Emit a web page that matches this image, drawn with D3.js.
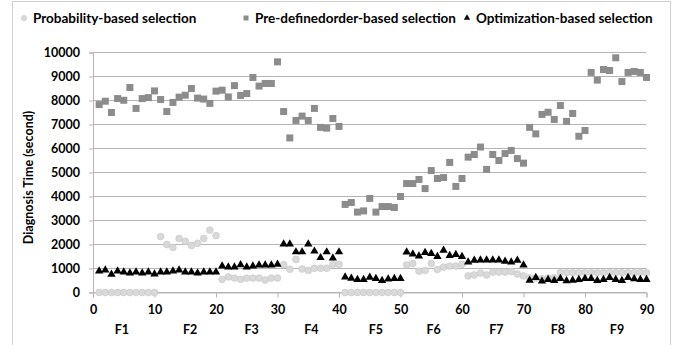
<!DOCTYPE html>
<html>
<head>
<meta charset="utf-8">
<script src="https://cdn.jsdelivr.net/npm/d3@7"></script>
<style>
  body { margin: 0; background: #fff; }
  text { font-family: Lato, "Open Sans", sans-serif; font-weight: 700; fill: #000; }
</style>
</head>
<body>
<script>
// values (x = test case 1..90)
const probability = [
  0, 0, 0, 0, 0, 0, 0, 0, 0, 0,
  2330, 2000, 1880, 2250, 2130, 1960, 2050, 2250, 2600, 2370,
  550, 650, 600, 550, 600, 600, 600, 520, 600, 600,
  1160, 970, 1380, 980, 920, 1010, 1010, 1010, 1170, 1170,
  0, 0, 0, 0, 0, 0, 0, 0, 0, 0,
  1150, 1210, 890, 920, 1210, 960, 1060, 1100, 1100, 1180,
  690, 730, 810, 730, 850, 850, 850, 870, 770, 690,
  620, 600, 580, 600, 620, 830, 830, 830, 830, 830,
  830, 830, 830, 840, 830, 830, 830, 830, 840, 830
];
const predefined = [
  7830, 7970, 7500, 8080, 8010, 8540, 7670, 8080, 8120, 8400,
  8040, 7540, 7920, 8140, 8220, 8500, 8100, 8060, 7880, 8390,
  8430, 8150, 8620, 8210, 8290, 8960, 8600, 8710, 8710, 9610,
  7540, 6440, 7170, 7350, 7170, 7670, 6880, 6850, 7250, 6920,
  3670, 3750, 3350, 3400, 3920, 3350, 3580, 3580, 3540, 4000,
  4540, 4540, 4710, 4330, 5080, 4750, 4790, 5420, 4420, 4750,
  5640, 5750, 6060, 5130, 5750, 5500, 5790, 5920, 5580, 5390,
  6880, 6610, 7420, 7510, 7210, 7790, 7130, 7460, 6510, 6750,
  9170, 8850, 9290, 9250, 9780, 8790, 9170, 9210, 9170, 8960
];
const optimization = [
  890, 930, 760, 890, 850, 810, 850, 810, 850, 770,
  850, 850, 890, 930, 850, 850, 810, 850, 850, 850,
  1100, 1055, 1055, 1150, 1055, 1100, 1140, 1140, 1140, 1170,
  2020, 2020, 1690, 1690, 2020, 1720, 1450, 1690, 1430, 1690,
  640, 590, 540, 540, 630, 580, 500, 560, 580, 580,
  1680, 1600, 1520, 1660, 1620, 1500, 1760, 1540, 1580, 1500,
  1270, 1340, 1350, 1350, 1350, 1350, 1300, 1270, 1340, 1140,
  510, 625, 470, 540, 500, 580, 490, 510, 540, 580,
  580, 500, 540, 625, 540, 500, 625, 570, 540, 540
];
const seriesNames = ["Probability-based selection", "Pre-definedorder-based selection", "Optimization-based selection"];
const xTickValues = [0, 10, 20, 30, 40, 50, 60, 70, 80, 90];
const yTickValues = [0, 1000, 2000, 3000, 4000, 5000, 6000, 7000, 8000, 9000, 10000];
const faultLabels = ["F1", "F2", "F3", "F4", "F5", "F6", "F7", "F8", "F9"];
const faultCenters = [4.7, 15.8, 25.8, 35.5, 46, 55.4, 65.6, 75.6, 85.2];

const width = 682;
const height = 345;

const svg = d3.select("body").append("svg")
  .attr("width", width)
  .attr("height", height);

// outer chart frame
svg.append("rect")
  .attr("x", 12.5).attr("y", 1.5)
  .attr("width", 658).attr("height", 360)
  .attr("fill", "none")
  .attr("stroke", "#d0d0d0");

const x = d3.scaleLinear().domain([0, 90]).range([93, 646.5]);
const y = d3.scaleLinear().domain([0, 10000]).range([292.5, 52.5]);

// gridlines
svg.append("g")
  .selectAll("line")
  .data(yTickValues)
  .join("line")
  .attr("x1", x(0)).attr("x2", x(90))
  .attr("y1", (d) => y(d)).attr("y2", (d) => y(d))
  .attr("stroke", "#b5b5b5");

// y axis
const yAxis = svg.append("g")
  .attr("transform", `translate(${x(0)},0)`)
  .call(d3.axisLeft(y).tickValues(yTickValues).tickSize(4).tickPadding(9).tickFormat(d3.format("d")));
yAxis.select(".domain").attr("stroke", "#b5b5b5");
yAxis.selectAll(".tick line").attr("stroke", "#b5b5b5");
yAxis.selectAll("text").style("font-size", "12.5px").attr("dy", "0.35em");

// x axis
const xAxis = svg.append("g")
  .attr("transform", `translate(0,${y(0)})`)
  .call(d3.axisBottom(x).tickValues(xTickValues).tickSize(5).tickPadding(8).tickFormat(d3.format("d")));
xAxis.select(".domain").attr("stroke", "#b5b5b5");
xAxis.selectAll(".tick line").attr("stroke", "#b5b5b5");
xAxis.selectAll("text").style("font-size", "12.5px");

// fault group labels
svg.append("g")
  .selectAll("text")
  .data(faultLabels)
  .join("text")
  .attr("x", (d, i) => x(faultCenters[i]))
  .attr("y", 334)
  .attr("text-anchor", "middle")
  .style("font-size", "12.5px")
  .text((d) => d);

// y title
svg.append("text")
  .attr("transform", `translate(33,${(y(0) + y(10000)) / 2 + 5}) rotate(-90)`)
  .attr("text-anchor", "middle")
  .style("font-size", "12.5px")
  .text("Diagnosis Time (second)");

const idx = d3.range(1, 91);

// probability: light circles
svg.append("g")
  .selectAll("circle")
  .data(idx)
  .join("circle")
  .attr("cx", (d) => x(d))
  .attr("cy", (d) => y(probability[d - 1]))
  .attr("r", 3.4)
  .attr("fill", "#d9d9d9")
  .attr("stroke", "#c6c6c6")
  .attr("stroke-width", 0.6);

// pre-defined order: gray squares
svg.append("g")
  .selectAll("rect")
  .data(idx)
  .join("rect")
  .attr("x", (d) => x(d) - 3.5)
  .attr("y", (d) => y(predefined[d - 1]) - 3.5)
  .attr("width", 7)
  .attr("height", 7)
  .attr("fill", "#8c8c8c");

// optimization: black triangles
const tri = d3.symbol().type(d3.symbolTriangle).size(30);
svg.append("g")
  .selectAll("path")
  .data(idx)
  .join("path")
  .attr("d", tri)
  .attr("transform", (d) => `translate(${x(d)},${y(optimization[d - 1])})`)
  .attr("fill", "#000");

// legend
const legendX = [24, 246, 467];
const legend = svg.append("g")
  .selectAll("g")
  .data(seriesNames)
  .join("g")
  .attr("transform", (d, i) => `translate(${legendX[i]},18)`);
legend.append("text")
  .attr("x", 9)
  .attr("y", 5)
  .style("font-size", "13.5px")
  .text((d) => d);
legend.filter((d, i) => i === 0).append("circle")
  .attr("r", 2.6).attr("fill", "#d9d9d9").attr("stroke", "#c6c6c6").attr("stroke-width", 0.6);
legend.filter((d, i) => i === 1).append("rect")
  .attr("x", -2.5).attr("y", -2.5).attr("width", 5).attr("height", 5).attr("fill", "#8c8c8c");
legend.filter((d, i) => i === 2).append("path")
  .attr("d", d3.symbol().type(d3.symbolTriangle).size(18)).attr("fill", "#000");
</script>
</body>
</html>
